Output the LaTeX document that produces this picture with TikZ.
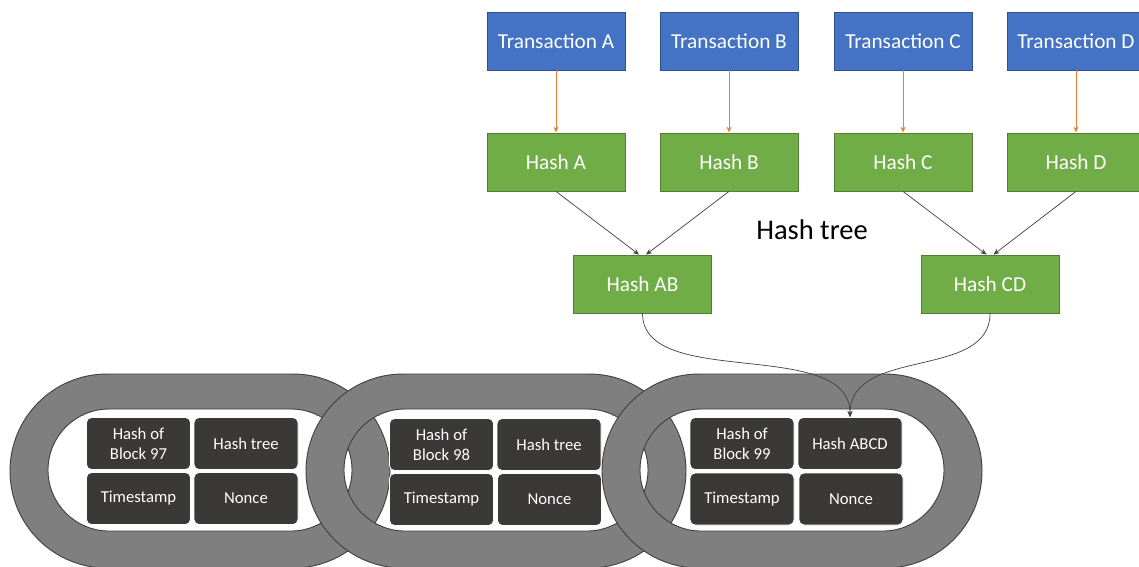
\documentclass[tikz,border=0pt]{standalone}
\usepackage{fontspec}
\setmainfont{Carlito}
\usetikzlibrary{arrows.meta}
\definecolor{txblue}{RGB}{68,114,196}
\definecolor{txblueb}{RGB}{47,82,143}
\definecolor{hgreen}{RGB}{112,173,71}
\definecolor{hgreenb}{RGB}{80,126,50}
\definecolor{arrorange}{RGB}{237,125,49}
\definecolor{linkgray}{RGB}{127,127,127}
\definecolor{linkedge}{RGB}{64,64,64}
\definecolor{darkbox}{RGB}{59,56,56}
\definecolor{arrgray}{RGB}{64,64,64}
\begin{document}
\begin{tikzpicture}[x=1pt,y=-1pt,
  txbox/.style={draw=txblueb,line width=0.8pt,fill=txblue,text=white,minimum width=138pt,minimum height=58pt,inner sep=0pt,font=\fontsize{21.3}{24}\selectfont},
  hbox/.style={draw=hgreenb,line width=0.8pt,fill=hgreen,text=white,minimum width=138pt,minimum height=58pt,inner sep=0pt,font=\fontsize{21.3}{24}\selectfont},
  dbox/.style={draw=white,line width=0.8pt,fill=darkbox,text=white,rounded corners=5pt,minimum width=104pt,minimum height=52pt,inner sep=0pt,align=center,font=\fontsize{16.7}{20}\selectfont},
  linkshape/.style={fill=linkgray,draw=linkedge,line width=0.9pt,even odd rule},
  oarrow/.style={draw=arrorange,line width=0.9pt,-{Stealth[length=6pt,width=5pt]}},
  garrow/.style={draw=arrgray,line width=0.7pt,-{Stealth[length=6pt,width=5pt]}}
]
\useasboundingbox (0,0) rectangle (1139,566);
\clip (0,0) rectangle (1139,566);
\fill[white] (0,0) rectangle (1139,566);

% chain links
\foreach \xo in {10,306,602}{
  \path[linkshape] [rounded corners=97pt] (\xo,374) rectangle ++(380,194)
        [rounded corners=61pt] (\xo+38,409) rectangle ++(304,122);
}

% block contents
\node[dbox] (b97)  at (138.5,443.5) {Hash of\\Block 97};
\node[dbox] (ht97) at (246,443.5) {Hash tree};
\node[dbox] (ts97) at (138.5,498.5) {Timestamp};
\node[dbox] (n97)  at (246,498.5) {Nonce};

\node[dbox] (b98)  at (441.5,444.5) {Hash of\\Block 98};
\node[dbox] (ht98) at (549,444.5) {Hash tree};
\node[dbox] (ts98) at (441.5,499.5) {Timestamp};
\node[dbox] (n98)  at (549.5,499.5) {Nonce};

\node[dbox] (b99)  at (742,443.5) {Hash of\\Block 99};
\node[dbox] (abcd) at (850,443.5) {Hash ABCD};
\node[dbox] (ts99) at (742,499) {Timestamp};
\node[dbox] (n99)  at (851,499) {Nonce};

% transactions
\node[txbox] (tA) at (556,41) {Transaction A};
\node[txbox] (tB) at (729,41) {Transaction B};
\node[txbox] (tC) at (903,41) {Transaction C};
\node[txbox] (tD) at (1076,41) {Transaction D};

% hashes
\node[hbox] (hA) at (556,162) {Hash A};
\node[hbox] (hB) at (729,162) {Hash B};
\node[hbox] (hC) at (903,162) {Hash C};
\node[hbox] (hD) at (1076,162) {Hash D};

\node[hbox] (hAB) at (642.5,284) {Hash AB};
\node[hbox] (hCD) at (990,284) {Hash CD};

\node[font=\fontsize{28.5}{32}\selectfont,inner sep=0pt] (lbl) at (812,230) {Hash tree};

% arrows
\draw[oarrow] (tA.south) -- (hA.north);
\draw[oarrow] (tB.south) -- (hB.north);
\draw[oarrow] (tC.south) -- (hC.north);
\draw[oarrow] (tD.south) -- (hD.north);

\draw[garrow] (hA.south) -- ([xshift=-3.5pt]hAB.north);
\draw[garrow] (hB.south) -- ([xshift=3.5pt]hAB.north);
\draw[garrow] (hC.south) -- ([xshift=-3.5pt]hCD.north);
\draw[garrow] (hD.south) -- ([xshift=3.5pt]hCD.north);

\draw[garrow] (hAB.south) .. controls +(0,77) and +(0,-81) .. (abcd.north);
\draw[garrow] (hCD.south) .. controls +(0,67) and +(0,-71) .. (abcd.north);
\end{tikzpicture}
\end{document}
